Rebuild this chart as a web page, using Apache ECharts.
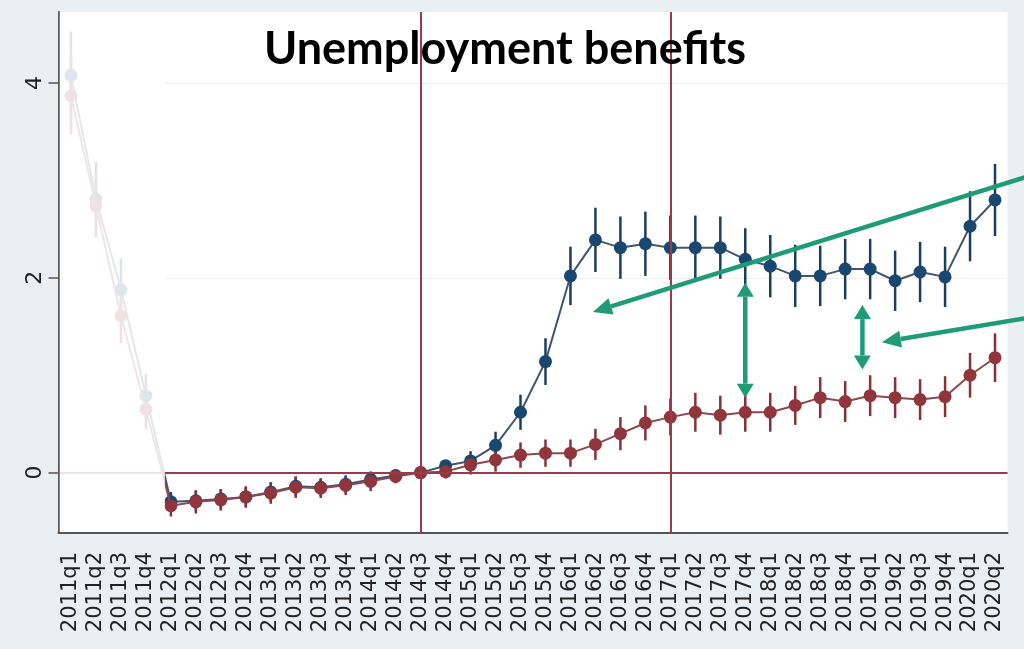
<!DOCTYPE html>
<html><head><meta charset="utf-8">
<script src="https://cdn.jsdelivr.net/npm/echarts@6/dist/echarts.min.js"></script>
<style>html,body{margin:0;padding:0;background:#e9eff2;}#c{width:1024px;height:649px;}</style>
</head><body><div id="c"></div>
<script>
const categories = ['2011q1','2011q2','2011q3','2011q4','2012q1','2012q2','2012q3','2012q4','2013q1','2013q2','2013q3','2013q4','2014q1','2014q2','2014q3','2014q4','2015q1','2015q2','2015q3','2015q4','2016q1','2016q2','2016q3','2016q4','2017q1','2017q2','2017q3','2017q4','2018q1','2018q2','2018q3','2018q4','2019q1','2019q2','2019q3','2019q4','2020q1','2020q2'];
const blueValues = [4.08,2.81,1.88,0.79, -0.30,-0.29,-0.27,-0.25, -0.20,-0.14,-0.15,-0.12, -0.07,-0.03,0,0.07, 0.12,0.28,0.62,1.14, 2.02,2.39,2.31,2.35, 2.31,2.31,2.31,2.19, 2.12,2.02,2.02,2.09, 2.09,1.97,2.06,2.01, 2.53,2.80];
const blueCI = [0.45,0.38,0.32,0.22, 0.10,0.10,0.10,0.10, 0.10,0.10,0.09,0.09, 0.08,0.06,0,0.06, 0.10,0.14,0.18,0.24, 0.30,0.33,0.32,0.33, 0.33,0.33,0.32,0.32, 0.32,0.32,0.31,0.31, 0.31,0.31,0.31,0.31, 0.36,0.37];
const redValues = [3.87,2.74,1.61,0.65, -0.34,-0.30,-0.28,-0.25, -0.21,-0.15,-0.16,-0.13, -0.09,-0.04,0,0.01, 0.08,0.13,0.18,0.20, 0.20,0.29,0.40,0.51, 0.57,0.62,0.59,0.62, 0.62,0.69,0.77,0.73, 0.79,0.77,0.75,0.78, 1.00,1.18];
const redCI = [0.40,0.33,0.28,0.20, 0.11,0.12,0.11,0.11, 0.11,0.11,0.10,0.10, 0.10,0.07,0,0.07, 0.10,0.12,0.13,0.14, 0.14,0.16,0.17,0.18, 0.19,0.20,0.20,0.20, 0.20,0.20,0.21,0.21, 0.21,0.21,0.21,0.21, 0.23,0.25];
const yTicks = [0, 2, 4];
const yRange = [-0.62, 4.73];
const eventLines = ['2014q3', '2017q1'];
const fadeRange = [-0.5, 3.76];
const longArrows = [ {from:[38.8, 3.08], to:[20.9, 1.65]}, {from:[38.8, 1.61], to:[32.47, 1.34]} ];
const doubleArrows = [ {a:[27, 0.77], b:[27, 1.95]}, {a:[31.69, 1.06], b:[31.69, 1.72]} ];

const BLUE = '#1a476f', RED = '#90353b', GREEN = '#1f9b78';

function errSeries(vals, ci, color, name) {
  return {
    type: 'custom', name: name, xAxisIndex: 0, yAxisIndex: 0, z: 2, silent: true,
    data: vals.map((v, i) => [i, v - ci[i], v + ci[i]]),
    encode: { x: 0, y: [1, 2] },
    renderItem: (params, api) => {
      const lo = api.coord([api.value(0), api.value(1)]);
      const hi = api.coord([api.value(0), api.value(2)]);
      return { type: 'line', shape: { x1: lo[0], y1: lo[1], x2: hi[0], y2: hi[1] }, style: { stroke: color, lineWidth: 2.5 } };
    }
  };
}

const chart = echarts.init(document.getElementById('c'), null, { renderer: 'canvas' });
chart.setOption({
  animation: false,
  backgroundColor: '#e9eff2',
  grid: { left: 58.5, right: 16.5, top: 12, bottom: 116, show: true, backgroundColor: '#ffffff', borderWidth: 0 },
  xAxis: [{
    type: 'category', data: categories, boundaryGap: true,
    axisLine: { onZero: false, lineStyle: { color: '#555', width: 2 } },
    axisTick: { alignWithLabel: true, length: 12, lineStyle: { color: '#555', width: 1.5 } },
    axisLabel: { interval: 0, rotate: 90, margin: 19, fontFamily: 'DejaVu Sans', fontSize: 21, color: '#222' },
    splitLine: { show: false }
  }, {
    type: 'value', min: fadeRange[0], max: categories.length - 0.5, show: false
  }],
  yAxis: {
    type: 'value', min: yRange[0], max: yRange[1],
    axisLine: { show: true, onZero: false, lineStyle: { color: '#555', width: 2 } },
    axisTick: { show: true, length: 10, customValues: yTicks, lineStyle: { color: '#555', width: 1.5 } },
    axisLabel: { customValues: yTicks, rotate: 90, margin: 12, fontFamily: 'DejaVu Sans', fontSize: 22, color: '#222' },
    splitLine: { show: true, lineStyle: { color: '#efefef', width: 1 } }
  },
  series: [
    {
      type: 'line', name: 'refs', data: [], z: 1, silent: true,
      markLine: {
        silent: true, symbol: 'none', label: { show: false },
        lineStyle: { color: '#9c3a4a', width: 2, type: 'solid' },
        data: [{ yAxis: 0 }].concat(eventLines.map(c => ({ xAxis: c })))
      }
    },
    errSeries(blueValues, blueCI, '#1d3d5e', 'blueCI'),
    errSeries(redValues, redCI, '#86303a', 'redCI'),
    {
      type: 'line', name: 'blue', data: blueValues, z: 3, symbol: 'circle', symbolSize: 13,
      itemStyle: { color: BLUE }, lineStyle: { color: '#40566c', width: 2 }
    },
    {
      type: 'line', name: 'red', data: redValues, z: 4, symbol: 'circle', symbolSize: 13,
      itemStyle: { color: RED }, lineStyle: { color: '#8a4850', width: 2 }
    },
    {
      type: 'custom', name: 'fade', xAxisIndex: 1, yAxisIndex: 0, z: 10, silent: true,
      data: [[fadeRange[0], fadeRange[1], 0]],
      encode: { x: [0, 1], y: 2 },
      renderItem: (params, api) => {
        const x0 = api.coord([api.value(0), 0])[0] + 1.2;
        const x1 = api.coord([api.value(1), 0])[0];
        const cs = params.coordSys;
        return { type: 'rect', shape: { x: x0, y: cs.y, width: x1 - x0, height: cs.height - 1.2 }, style: { fill: 'rgba(255,255,255,0.86)' } };
      }
    }
  ]
});

const P = (p) => chart.convertToPixel({ xAxisIndex: 1, yAxisIndex: 0 }, p);
function head(tip, from, len, wid) {
  const dx = tip[0] - from[0], dy = tip[1] - from[1];
  const L = Math.hypot(dx, dy), ux = dx / L, uy = dy / L;
  const bx = tip[0] - ux * len, by = tip[1] - uy * len;
  return { base: [bx, by], poly: [tip, [bx - uy * wid / 2, by + ux * wid / 2], [bx + uy * wid / 2, by - ux * wid / 2]] };
}
const g = [];
longArrows.forEach(a => {
  const f = P(a.from), t = P(a.to);
  const h = head(t, f, 19, 17);
  g.push({ type: 'line', z: 50, shape: { x1: f[0], y1: f[1], x2: h.base[0], y2: h.base[1] }, style: { stroke: GREEN, lineWidth: 4.5 } });
  g.push({ type: 'polygon', z: 50, shape: { points: h.poly }, style: { fill: GREEN } });
});
doubleArrows.forEach(a => {
  const p1 = P(a.a), p2 = P(a.b);
  const h1 = head(p1, p2, 14, 17), h2 = head(p2, p1, 14, 17);
  g.push({ type: 'line', z: 50, shape: { x1: h1.base[0], y1: h1.base[1], x2: h2.base[0], y2: h2.base[1] }, style: { stroke: GREEN, lineWidth: 4.5 } });
  g.push({ type: 'polygon', z: 50, shape: { points: h1.poly }, style: { fill: GREEN } });
  g.push({ type: 'polygon', z: 50, shape: { points: h2.poly }, style: { fill: GREEN } });
});
g.push({ type: 'text', z: 60, left: 264, top: 27, style: { text: 'Unemployment benefits', font: 'bold 45px Lato', fill: '#000' } });
chart.setOption({ graphic: g });
</script>
</body></html>
